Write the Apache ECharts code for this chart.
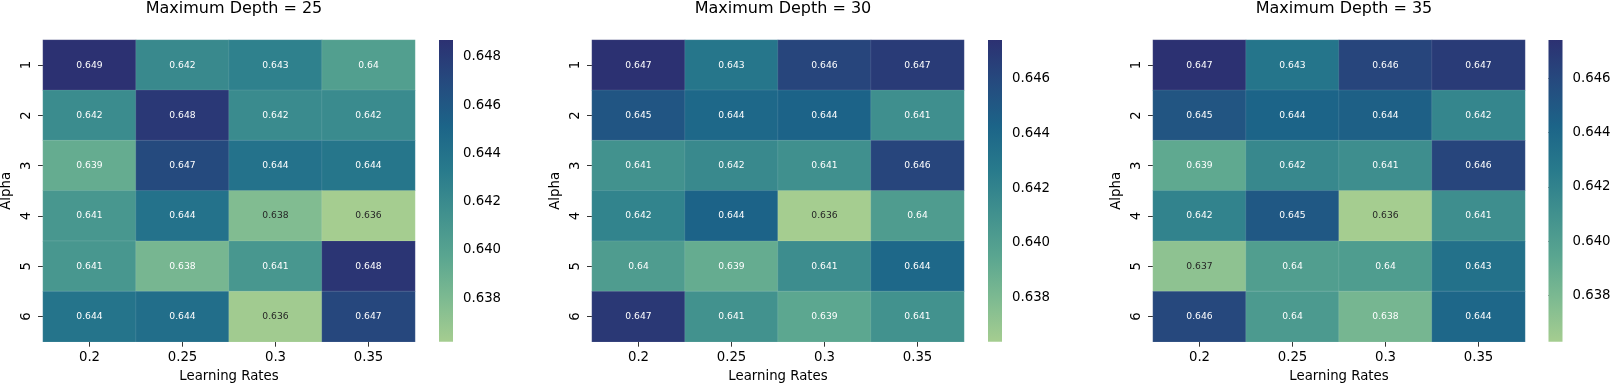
<!DOCTYPE html>
<html>
<head>
<meta charset="utf-8">
<script src="https://cdn.jsdelivr.net/npm/echarts@6/dist/echarts.min.js"></script>
<style>
html,body{margin:0;padding:0;background:#fff;}
#chart{width:1613px;height:384px;}
</style>
</head>
<body>
<div id="chart"></div>
<script>
// ---- data ----
const learningRates = ['0.2', '0.25', '0.3', '0.35'];
const alphas = ['1', '2', '3', '4', '5', '6'];
const titles = ['Maximum Depth = 25', 'Maximum Depth = 30', 'Maximum Depth = 35'];

// rows = alpha 1..6, columns = learning rate 0.2..0.35
const depth25 = [
  [0.6487, 0.6421, 0.6428, 0.6403],
  [0.6419, 0.6482, 0.6420, 0.6420],
  [0.6392, 0.6470, 0.6440, 0.6437],
  [0.6410, 0.6440, 0.6378, 0.6362],
  [0.6410, 0.6383, 0.6410, 0.6484],
  [0.6438, 0.6443, 0.6364, 0.6472]
];
const depth30 = [
  [0.6474, 0.6430, 0.6462, 0.6468],
  [0.6452, 0.6440, 0.6443, 0.6412],
  [0.6410, 0.6416, 0.6411, 0.6462],
  [0.6420, 0.6443, 0.6364, 0.6402],
  [0.6402, 0.6390, 0.6413, 0.6440],
  [0.6470, 0.6410, 0.6394, 0.6410]
];
const depth35 = [
  [0.6474, 0.6430, 0.6462, 0.6468],
  [0.6452, 0.6442, 0.6445, 0.6418],
  [0.6392, 0.6416, 0.6412, 0.6462],
  [0.6420, 0.6450, 0.6363, 0.6412],
  [0.6372, 0.6400, 0.6401, 0.6433],
  [0.6460, 0.6403, 0.6382, 0.6440]
];
const colorbarTicks25 = [0.638, 0.640, 0.642, 0.644, 0.646, 0.648];
const colorbarTicks30 = [0.638, 0.640, 0.642, 0.644, 0.646];
const colorbarTicks35 = [0.638, 0.640, 0.642, 0.644, 0.646];

// ---- styling / layout ----
const crest = ['#a5cd90', '#7dba91', '#59a590', '#40908e', '#287a8c', '#1c6488', '#254b7f', '#2c3172'];
const FONT = 'DejaVu Sans';
const panels = [
  { title: titles[0], data: depth25, ticks: colorbarTicks25, gx: 43, cbx: 439 },
  { title: titles[1], data: depth30, ticks: colorbarTicks30, gx: 592, cbx: 988 },
  { title: titles[2], data: depth35, ticks: colorbarTicks35, gx: 1153, cbx: 1548.5 }
];
const GT = 40, GH = 301.7, GW = 372, CBW = 14;

function hexToRgb(h) { return [1, 3, 5].map(i => parseInt(h.substr(i, 2), 16)); }
function cmap(t) {
  t = Math.max(0, Math.min(1, t));
  const n = crest.length - 1;
  const i = Math.min(n - 1, Math.floor(t * n));
  const f = t * n - i;
  const a = hexToRgb(crest[i]), b = hexToRgb(crest[i + 1]);
  return a.map((c, k) => c + (b[k] - c) * f);
}
function lum(rgb) {
  const l = rgb.map(c => { c /= 255; return c <= 0.03928 ? c / 12.92 : Math.pow((c + 0.055) / 1.055, 2.4); });
  return 0.2126 * l[0] + 0.7152 * l[1] + 0.0722 * l[2];
}
function fmt3(v) { return String(Number(v.toPrecision(3))); }

const option = {
  animation: false,
  backgroundColor: '#fff',
  title: [], grid: [], xAxis: [], yAxis: [], series: [], visualMap: []
};

panels.forEach((p, k) => {
  const flat = p.data.flat();
  const vmin = Math.min(...flat), vmax = Math.max(...flat);
  const items = [];
  p.data.forEach((row, yi) => row.forEach((v, xi) => {
    const c = cmap((v - vmin) / (vmax - vmin));
    items.push({ value: [xi, yi, v], label: { color: lum(c) > 0.408 ? '#262626' : '#ffffff' } });
  }));

  option.title.push({
    text: p.title, left: p.gx + GW / 2, top: -4, textAlign: 'center',
    textStyle: { fontFamily: FONT, fontSize: 16, fontWeight: 'normal', color: '#000' }
  });
  option.grid.push({ left: p.gx, top: GT, width: GW, height: GH, containLabel: false, outerBoundsMode: 'none' });
  option.grid.push({ left: p.cbx, top: GT, width: CBW, height: GH, containLabel: false, outerBoundsMode: 'none' });

  const gi = k * 2;
  option.xAxis.push({
    type: 'category', gridIndex: gi, data: learningRates,
    name: 'Learning Rates', nameLocation: 'middle', nameGap: 28,
    nameTextStyle: { fontFamily: FONT, fontSize: 13.3, color: '#000' },
    axisLine: { show: false }, splitLine: { show: false },
    axisTick: { show: true, alignWithLabel: true, length: 5, lineStyle: { color: '#000', width: 0.8 } },
    axisLabel: { fontFamily: FONT, fontSize: 13.3, color: '#000', margin: 9, interval: 0 }
  });
  option.yAxis.push({
    type: 'category', gridIndex: gi, data: alphas, inverse: true,
    name: 'Alpha', nameLocation: 'middle', nameGap: 30,
    nameTextStyle: { fontFamily: FONT, fontSize: 13.3, color: '#000' },
    axisLine: { show: false }, splitLine: { show: false },
    axisTick: { show: true, alignWithLabel: true, length: 5, lineStyle: { color: '#000', width: 0.8 } },
    axisLabel: { fontFamily: FONT, fontSize: 13.3, color: '#000', margin: 10, rotate: 90, interval: 0 }
  });
  option.xAxis.push({ type: 'value', gridIndex: gi + 1, min: 0, max: 1, show: false });
  option.yAxis.push({
    type: 'value', gridIndex: gi + 1, min: vmin, max: vmax, position: 'right',
    axisLine: { show: false }, splitLine: { show: false },
    axisTick: { show: true, length: 5, lineStyle: { color: '#000', width: 0.8 }, customValues: p.ticks },
    axisLabel: {
      fontFamily: FONT, fontSize: 13.3, color: '#000', margin: 10, customValues: p.ticks,
      formatter: v => v.toFixed(3)
    }
  });

  const hsIndex = option.series.length;
  option.series.push({
    type: 'heatmap', xAxisIndex: gi, yAxisIndex: gi, data: items,
    label: { show: true, fontFamily: FONT, fontSize: 9.2, formatter: pp => fmt3(pp.value[2]) },
    itemStyle: { borderColor: 'rgba(255,255,255,0.18)', borderWidth: 0.6 },
    emphasis: { disabled: true }
  });
  option.visualMap.push({
    show: false, type: 'continuous', seriesIndex: hsIndex, dimension: 2,
    min: vmin, max: vmax, inRange: { color: crest }
  });
  option.series.push({
    type: 'custom', xAxisIndex: gi + 1, yAxisIndex: gi + 1, data: [[0.5, vmax]],
    silent: true,
    renderItem: (params, api) => {
      const cs = params.coordSys;
      const yTop = api.coord([0.5, vmax])[1];
      const yBot = api.coord([0.5, vmin])[1];
      return {
        type: 'rect',
        shape: { x: cs.x, y: yTop, width: cs.width, height: yBot - yTop },
        style: {
          fill: {
            type: 'linear', x: 0, y: 1, x2: 0, y2: 0,
            colorStops: crest.map((c, i) => ({ offset: i / (crest.length - 1), color: c }))
          }
        }
      };
    }
  });
});

const chart = echarts.init(document.getElementById('chart'), null, { renderer: 'canvas' });
chart.setOption(option);
</script>
</body>
</html>
